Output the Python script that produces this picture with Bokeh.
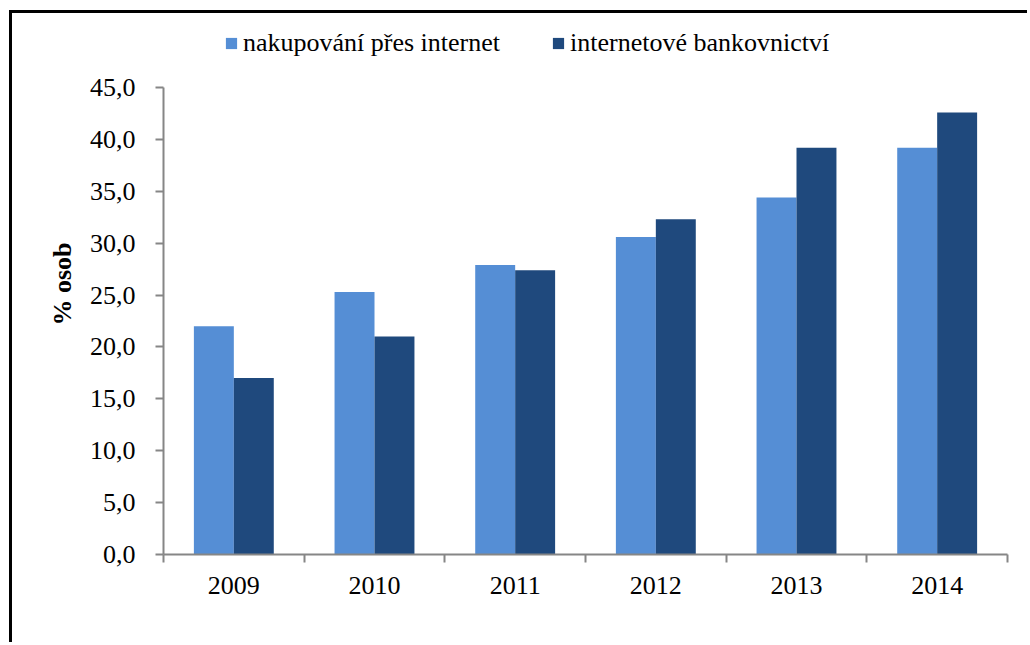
from bokeh.plotting import figure
from bokeh.models import (Range1d, FixedTicker, LinearAxis, Legend, LegendItem,
                          ColumnDataSource)
from bokeh.embed import file_html
from bokeh.resources import INLINE

years = ["2009", "2010", "2011", "2012", "2013", "2014"]
nakupovani = [22.0, 25.3, 27.9, 30.6, 34.4, 39.2]
bankovnictvi = [17.0, 21.0, 27.4, 32.3, 39.2, 42.6]
series_names = ["nakupování přes internet", "internetové bankovnictví"]
y_ticks = [0, 5, 10, 15, 20, 25, 30, 35, 40, 45]
y_tick_labels = ["0,0", "5,0", "10,0", "15,0", "20,0", "25,0", "30,0", "35,0", "40,0", "45,0"]

FONT = "Liberation Serif"
LIGHT = "#558ED5"
DARK = "#1F497D"
BW = 0.284

W, H = 1018, 632
MB_L, MB_R, MB_T, MB_B = 151, 23, 0, 91
AXIS_PX = 467          # pixel height of the 0..45 axis part
frame_h = H - MB_T - MB_B
y_top = y_ticks[-1] * frame_h / AXIS_PX   # extra room above 45 for the legend

idx = list(range(len(years)))
centers = [i + 0.5 for i in idx]
src = ColumnDataSource(dict(
    x1=[c - BW / 2 for c in centers],
    x2=[c + BW / 2 for c in centers],
    a=nakupovani, b=bankovnictvi))

p = figure(width=W, height=H, output_backend="svg", toolbar_location=None,
           x_range=Range1d(0, len(years)), y_range=Range1d(0, y_top),
           x_axis_type=None, y_axis_type=None)
p.styles = {"border-left": "3px solid black", "border-top": "3px solid black",
            "margin-left": "9px", "margin-top": "10px"}
p.min_border_left = MB_L
p.min_border_right = MB_R
p.min_border_top = MB_T
p.min_border_bottom = MB_B
p.outline_line_color = None
p.background_fill_color = "white"
p.border_fill_color = "white"

r1 = p.vbar(x="x1", top="a", width=BW, bottom=0, source=src, fill_color=LIGHT, line_color=None)
r2 = p.vbar(x="x2", top="b", width=BW, bottom=0, source=src, fill_color=DARK, line_color=None)

# y axis
yax = LinearAxis(ticker=FixedTicker(ticks=y_ticks, minor_ticks=[]), bounds=(y_ticks[0], y_ticks[-1]))
yax.major_label_overrides = {t: s for t, s in zip(y_ticks, y_tick_labels)}
yax.axis_label = "% osob"
yax.axis_label_text_font = FONT
yax.axis_label_text_font_style = "bold"
yax.axis_label_text_font_size = "26px"
yax.axis_label_text_color = "black"
yax.axis_label_standoff = 10
yax.major_label_text_font = FONT
yax.major_label_text_font_size = "26px"
yax.major_label_text_color = "black"
yax.major_label_standoff = 20
yax.axis_line_color = "#868686"
yax.axis_line_width = 2
yax.major_tick_line_color = "#868686"
yax.major_tick_line_width = 2
yax.major_tick_out = 8
yax.major_tick_in = 0
yax.minor_tick_line_color = None
p.add_layout(yax, "left")

# x axis: labels at category centres, ticks at boundaries
xax = LinearAxis(ticker=FixedTicker(ticks=centers, minor_ticks=[i for i in range(len(years) + 1)]))
xax.major_label_overrides = {c: y for c, y in zip(centers, years)}
xax.major_label_text_font = FONT
xax.major_label_text_font_size = "26px"
xax.major_label_text_color = "black"
xax.major_label_standoff = 14
xax.major_tick_line_color = None
xax.major_tick_out = 0
xax.major_tick_in = 0
xax.minor_tick_line_color = "#868686"
xax.minor_tick_line_width = 2
xax.minor_tick_out = 8
xax.minor_tick_in = 0
xax.axis_line_color = "#868686"
xax.axis_line_width = 2
p.add_layout(xax, "below")

p.ygrid.ticker = FixedTicker(ticks=y_ticks[1:])
p.ygrid.grid_line_color = "#a6a6a6"
p.ygrid.grid_line_dash = "4 2"
p.ygrid.grid_line_width = 1
p.xgrid.visible = False

legend = Legend(items=[LegendItem(label=series_names[0], renderers=[r1]),
                       LegendItem(label=series_names[1], renderers=[r2])],
                orientation="horizontal", location=(61, frame_h - 30 - 15))
legend.border_line_color = None
legend.background_fill_alpha = 0
legend.padding = 0
legend.margin = 0
legend.spacing = 51
legend.glyph_width = 14
legend.glyph_height = 14
legend.label_standoff = 5
legend.label_text_font = FONT
legend.label_text_font_size = "26px"
legend.label_text_color = "black"
p.add_layout(legend, "center")

open("out.html", "w").write(file_html(p, INLINE))
